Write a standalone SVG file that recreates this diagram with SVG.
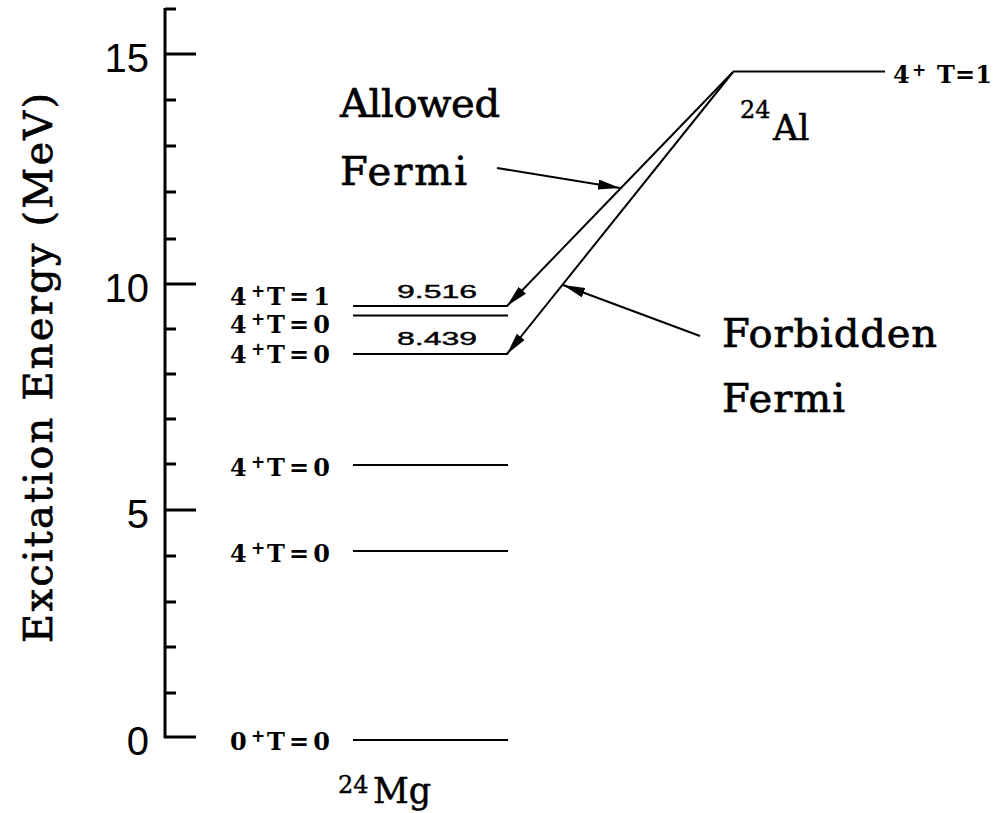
<svg xmlns="http://www.w3.org/2000/svg" width="1000" height="813" viewBox="0 0 1000 813">
<style>
.ax{stroke:#000;stroke-width:3;fill:none}
.lv{stroke:#000;stroke-width:2.2;fill:none}
.ar{stroke:#000;stroke-width:2;fill:none}
.num{font-family:"Liberation Sans",Arial,sans-serif;font-size:40px;fill:#000}
.big{font-family:"DejaVu Serif","Liberation Serif",serif;font-size:40px;fill:#000;stroke:#000;stroke-width:0.7}
.lab{font-family:"DejaVu Serif","Liberation Serif",serif;font-size:24px;font-weight:bold;fill:#000}
.sup{font-family:"DejaVu Sans","Liberation Sans",sans-serif;font-size:17px;font-weight:bold;fill:#000}
.val{font-family:"Liberation Sans",Arial,sans-serif;font-size:19px;fill:#000;stroke:#000;stroke-width:0.4}
.nuc{font-family:"DejaVu Serif","Liberation Serif",serif;font-size:35px;fill:#000;stroke:#000;stroke-width:0.5}
.nucs{font-family:"DejaVu Serif","Liberation Serif",serif;font-size:24px;fill:#000;stroke:#000;stroke-width:0.4}
</style>
<defs>
<marker id="ah" markerUnits="userSpaceOnUse" markerWidth="24" markerHeight="12" refX="22" refY="5" orient="auto">
<path d="M0,0 L22,5 L0,10 z" fill="#000"/>
</marker>
</defs>
<rect width="1000" height="813" fill="#fff"/>
<g id="axis">
<path class="ax" d="M165,8 V738 M165,9 H176 M165,54 H196 M165,100 H176 M165,146 H176 M165,192 H176 M165,239 H176 M165,284 H196 M165,329 H176 M165,374 H176 M165,419 H176 M165,464 H176 M165,510 H196 M165,556 H176 M165,602 H176 M165,647 H176 M165,693 H176 M164,737 H196"/>
<text class="num" x="149" y="72" text-anchor="end">15</text>
<text class="num" x="149" y="302" text-anchor="end">10</text>
<text class="num" x="149" y="528" text-anchor="end">5</text>
<text class="num" x="149" y="755" text-anchor="end">0</text>
<text class="big" transform="translate(52,368) rotate(-90)" text-anchor="middle" textLength="550" lengthAdjust="spacing">Excitation Energy (MeV)</text>
</g>
<g id="mg24">
<g id="level-9516">
<line class="lv" x1="353" y1="306" x2="508" y2="306"/>
<text class="lab" x="230" y="305">4</text><text class="sup" x="251" y="297">+</text><text class="lab" x="267" y="305" textLength="63" lengthAdjust="spacing">T=1</text>
<text class="val" x="397" y="298" textLength="80" lengthAdjust="spacingAndGlyphs">9.516</text>
</g>
<g id="level-93">
<line class="lv" x1="353" y1="315.5" x2="508" y2="315.5"/>
<text class="lab" x="230" y="333">4</text><text class="sup" x="251" y="325">+</text><text class="lab" x="267" y="333" textLength="63" lengthAdjust="spacing">T=0</text>
</g>
<g id="level-8439">
<line class="lv" x1="353" y1="354" x2="508" y2="354"/>
<text class="lab" x="230" y="363">4</text><text class="sup" x="251" y="355">+</text><text class="lab" x="267" y="363" textLength="63" lengthAdjust="spacing">T=0</text>
<text class="val" x="397" y="345" textLength="80" lengthAdjust="spacingAndGlyphs">8.439</text>
</g>
<g id="level-6">
<line class="lv" x1="353" y1="465" x2="508" y2="465"/>
<text class="lab" x="230" y="476">4</text><text class="sup" x="251" y="468">+</text><text class="lab" x="267" y="476" textLength="63" lengthAdjust="spacing">T=0</text>
</g>
<g id="level-4">
<line class="lv" x1="353" y1="551" x2="508" y2="551"/>
<text class="lab" x="230" y="562">4</text><text class="sup" x="251" y="554">+</text><text class="lab" x="267" y="562" textLength="63" lengthAdjust="spacing">T=0</text>
</g>
<g id="level-0">
<line class="lv" x1="353" y1="740" x2="508" y2="740"/>
<text class="lab" x="230" y="750">0</text><text class="sup" x="251" y="742">+</text><text class="lab" x="267" y="750" textLength="63" lengthAdjust="spacing">T=0</text>
</g>
<g id="label-mg">
<text class="nucs" x="338" y="793">24</text><text class="nuc" x="373" y="803">Mg</text>
</g>
</g>
<g id="al24">
<line class="lv" x1="733" y1="71.5" x2="885" y2="71.5"/>
<text class="lab" x="893" y="83" font-size="22">4</text><text class="sup" x="912" y="76" font-size="16">+</text><text class="lab" x="937" y="83" textLength="55" lengthAdjust="spacing" font-size="22">T=1</text>
<text class="nucs" x="740" y="118">24</text><text class="nuc" x="773" y="140">Al</text>
</g>
<g id="allowed-label">
<text class="big" x="340" y="117" textLength="160" lengthAdjust="spacing">Allowed</text>
<text class="big" x="340" y="185" textLength="127" lengthAdjust="spacing">Fermi</text>
</g>
<g id="forbidden-label">
<text class="big" x="722" y="347" textLength="215" lengthAdjust="spacing">Forbidden</text>
<text class="big" x="722" y="412" textLength="123" lengthAdjust="spacing">Fermi</text>
</g>
<g id="connectors">
<line class="ar" x1="733" y1="72" x2="507" y2="306" marker-end="url(#ah)"/>
<line class="ar" x1="733" y1="72" x2="507" y2="354" marker-end="url(#ah)"/>
<line class="ar" x1="497" y1="168" x2="620" y2="188" marker-end="url(#ah)"/>
<line class="ar" x1="700" y1="336" x2="563" y2="285" marker-end="url(#ah)"/>
</g>
</svg>
